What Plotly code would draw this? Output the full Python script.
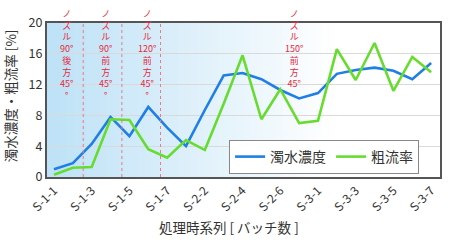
import plotly.graph_objects as go

categories = [f"S-{a}-{b}" for a in (1, 2, 3) for b in range(1, 8)]
turbidity = [1.0, 1.8, 4.3, 7.8, 5.3, 9.1, 6.4, 4.0, 8.7, 13.2, 13.5, 12.7, 11.3,
             10.2, 10.9, 13.4, 13.9, 14.2, 13.8, 12.7, 14.8]
coarse_rate = [0.3, 1.2, 1.3, 7.5, 7.4, 3.6, 2.5, 4.8, 3.5, 9.5, 15.8, 7.5, 11.4,
               7.0, 7.3, 16.6, 12.6, 17.4, 11.2, 15.6, 13.6]
tick_labels = categories[::2]
y_ticks = [0, 4, 8, 12, 16, 20]

nozzle_notes = [
    (0.69, ["ノ", "ズ", "ル", "90°", "後", "方", "45°", "°"]),
    (2.74, ["ノ", "ズ", "ル", "90°", "前", "方", "45°", "°"]),
    (4.91, ["ノ", "ズ", "ル", "120°", "前", "方", "45°", "°"]),
    (12.72, ["ノ", "ズ", "ル", "150°", "前", "方", "45°"]),
]
divider_positions = [1.55, 3.6, 5.65]

W, H = 453, 240
L, R, T, B = 47, 11, 23, 63
PH = H - T - B
FONT = "Noto Sans CJK JP, Noto Sans, sans-serif"

fig = go.Figure()
fig.add_trace(go.Scatter(x=list(range(len(categories))), y=turbidity, mode="lines",
                         name="濁水濃度", line=dict(color="#1f7fe6", width=2.6)))
fig.add_trace(go.Scatter(x=list(range(len(categories))), y=coarse_rate, mode="lines",
                         name="粗流率", line=dict(color="#66dd2e", width=2.6)))

shapes = []
n = 60
for i in range(n):
    f = i / n
    t = min(1.0, f / 0.72)
    r = int(190 + (255 - 190) * t)
    g = int(226 + (255 - 226) * t)
    b = int(247 + (255 - 247) * t)
    shapes.append(dict(type="rect", xref="paper", yref="paper", x0=f, x1=(i + 1) / n + 0.002,
                       y0=0, y1=1, fillcolor=f"rgb({r},{g},{b})", line=dict(width=0),
                       layer="below"))
for xp in divider_positions:
    shapes.append(dict(type="line", xref="x", yref="paper", x0=xp, x1=xp, y0=0, y1=1,
                       line=dict(color="#ee7788", width=1, dash="dot"), layer="above"))

annotations = []
def ypx(p):
    return (H - B - p) / PH

for xc, lines in nozzle_notes:
    annotations.append(dict(x=xc, xref="x", y=ypx(5), yref="paper", text="<br>".join(lines),
                            showarrow=False, align="center",
                            font=dict(family=FONT, size=9.0, color="#e8283a"),
                            xanchor="center", yanchor="top"))

annotations.append(dict(x=(230 - L) / (W - L - R), xref="paper", y=ypx(227), yref="paper",
                        text="処理時系列 [ バッチ数 ]", showarrow=False,
                        font=dict(family=FONT, size=13.5, color="#333333"),
                        xanchor="center", yanchor="middle"))
annotations.append(dict(x=-(L - 10) / (W - L - R), xref="paper", y=ypx(96), yref="paper",
                        text="濁水濃度・粗流率 [%]", showarrow=False, textangle=-90,
                        font=dict(family=FONT, size=13.5, color="#333333"),
                        xanchor="center", yanchor="middle"))

fig.update_layout(
    width=W, height=H, margin=dict(l=L, r=R, t=T, b=B),
    paper_bgcolor="white", plot_bgcolor="white",
    shapes=shapes, annotations=annotations,
    showlegend=True,
    legend=dict(orientation="h", x=(230 - L) / (W - L - R), y=ypx(140), xanchor="left",
                yanchor="top", bgcolor="white", bordercolor="#888888", borderwidth=1,
                font=dict(family=FONT, size=14, color="#333333"),
                itemwidth=30, tracegroupgap=0),
    xaxis=dict(range=[-0.37, 20.47], tickmode="array",
               tickvals=list(range(0, len(categories), 2)), ticktext=tick_labels,
               tickangle=-45, showgrid=False, zeroline=False, showline=True,
               linecolor="#555555", linewidth=2, mirror=True, ticks="",
               tickfont=dict(family=FONT, size=12, color="#333333")),
    yaxis=dict(range=[0, 20], tickvals=y_ticks, showgrid=True, gridcolor="#d9d9d9",
               gridwidth=1, zeroline=False, showline=True, linecolor="#555555",
               linewidth=2, mirror=True, ticks="",
               tickfont=dict(family=FONT, size=12.5, color="#333333")),
)

fig.write_html("out.html")
